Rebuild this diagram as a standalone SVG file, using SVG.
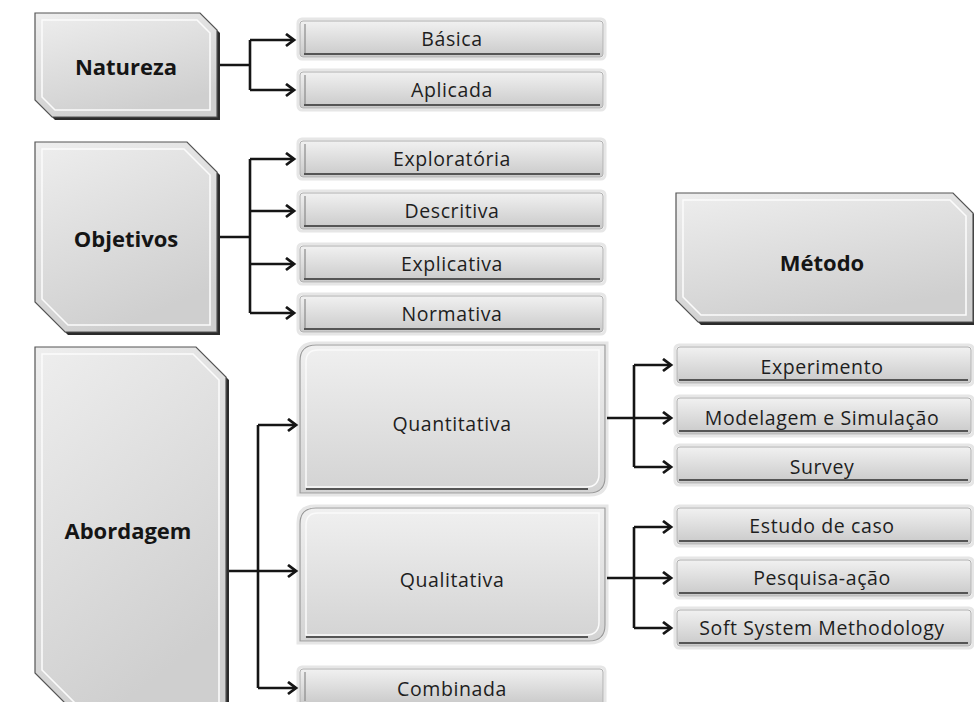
<svg xmlns="http://www.w3.org/2000/svg" width="974" height="702" viewBox="0 0 974 702">
<style>
.big{fill:url(#gBig);stroke:#555;stroke-width:1.2}
.shadow{fill:#2b2b2b}
.inner{fill:none;stroke:#fbfbfb;stroke-width:1.6}
.med{fill:url(#gMed);stroke:#9a9a9a;stroke-width:1.2}
.small{fill:url(#gSmall);stroke:#b0b0b0;stroke-width:1}
.glow{fill:none;stroke:#e6e6e6;stroke-width:3}
.edgeL{stroke:#8a8a8a;stroke-width:1.2}
.edgeB{stroke:#555;stroke-width:2.2}
.tb{font-family:"Open Sans","Liberation Sans",sans-serif;font-weight:bold;font-size:22px;fill:#151515;text-anchor:middle;dominant-baseline:central}
.tr{font-family:"Open Sans","Liberation Sans",sans-serif;font-size:19.5px;letter-spacing:0.6px;fill:#1e1e1e;text-anchor:middle;dominant-baseline:central}
.conn{fill:none;stroke:#151515;stroke-width:2.6}
</style>
<defs>
<linearGradient id="gBig" x1="0" y1="0" x2="0.4" y2="1">
<stop offset="0" stop-color="#eeeeee"/>
<stop offset="1" stop-color="#cfcfcf"/>
</linearGradient>
<linearGradient id="gMed" x1="0" y1="0" x2="0" y2="1">
<stop offset="0" stop-color="#f0f0f0"/>
<stop offset="1" stop-color="#d3d3d3"/>
</linearGradient>
<linearGradient id="gSmall" x1="0" y1="0" x2="0" y2="1">
<stop offset="0" stop-color="#f1f1f1"/>
<stop offset="1" stop-color="#c9c9c9"/>
</linearGradient>
<marker id="arr" markerUnits="userSpaceOnUse" markerWidth="14" markerHeight="16" refX="10" refY="7" orient="auto">
<path d="M2,1 L10,7 L2,13" fill="none" stroke="#151515" stroke-width="2.8"/>
</marker>
</defs>
<rect width="974" height="702" fill="#ffffff"/>

<g id="natureza">
<polygon class="shadow" points="38,16 203,16 220,33 220,120 55,120 38,103"/>
<polygon class="big" points="35,13 200,13 217,30 217,117 52,117 35,100"/>
<polygon class="inner" points="42,20 197,20 210,33 210,110 55,110 42,97"/>
<text class="tb" x="126" y="66">Natureza</text>
</g>

<g id="objetivos">
<polygon class="shadow" points="38,145 190,145 220,175 220,335 68,335 38,305"/>
<polygon class="big" points="35,142 187,142 217,172 217,332 65,332 35,302"/>
<polygon class="inner" points="42,149 184,149 210,175 210,325 68,325 42,299"/>
<text class="tb" x="126" y="238">Objetivos</text>
</g>

<g id="abordagem">
<polygon class="shadow" points="38,350 199,350 229,380 229,715 77,715 38,676"/>
<polygon class="big" points="35,347 196,347 226,377 226,712 74,712 35,673"/>
<polygon class="inner" points="42,354 193,354 219,380 219,705 77,705 42,670"/>
<text class="tb" x="128" y="530">Abordagem</text>
</g>

<g id="metodo">
<polygon class="shadow" points="679,196 956,196 976,216 976,325 701,325 679,303"/>
<polygon class="big" points="676,193 953,193 973,213 973,322 698,322 676,300"/>
<polygon class="inner" points="683,200 950,200 966,216 966,315 701,315 683,297"/>
<text class="tb" x="822" y="262">Método</text>
</g>

<g id="basica">
<rect class="glow" x="298" y="19" width="307" height="40" rx="4"/>
<rect class="small" x="300" y="21" width="303" height="36" rx="3"/>
<line class="edgeL" x1="305" y1="24" x2="305" y2="53"/>
<line class="edgeB" x1="304" y1="54" x2="600" y2="54"/>
<text class="tr" x="452" y="38">Básica</text>
</g>
<g id="aplicada">
<rect class="glow" x="298" y="70" width="307" height="40" rx="4"/>
<rect class="small" x="300" y="72" width="303" height="36" rx="3"/>
<line class="edgeL" x1="305" y1="75" x2="305" y2="104"/>
<line class="edgeB" x1="304" y1="105" x2="600" y2="105"/>
<text class="tr" x="452" y="89">Aplicada</text>
</g>
<g id="exploratoria">
<rect class="glow" x="298" y="139" width="307" height="40" rx="4"/>
<rect class="small" x="300" y="141" width="303" height="36" rx="3"/>
<line class="edgeL" x1="305" y1="144" x2="305" y2="173"/>
<line class="edgeB" x1="304" y1="174" x2="600" y2="174"/>
<text class="tr" x="452" y="158">Exploratória</text>
</g>
<g id="descritiva">
<rect class="glow" x="298" y="191" width="307" height="40" rx="4"/>
<rect class="small" x="300" y="193" width="303" height="36" rx="3"/>
<line class="edgeL" x1="305" y1="196" x2="305" y2="225"/>
<line class="edgeB" x1="304" y1="226" x2="600" y2="226"/>
<text class="tr" x="452" y="210">Descritiva</text>
</g>
<g id="explicativa">
<rect class="glow" x="298" y="244" width="307" height="40" rx="4"/>
<rect class="small" x="300" y="246" width="303" height="36" rx="3"/>
<line class="edgeL" x1="305" y1="249" x2="305" y2="278"/>
<line class="edgeB" x1="304" y1="279" x2="600" y2="279"/>
<text class="tr" x="452" y="263">Explicativa</text>
</g>
<g id="normativa">
<rect class="glow" x="298" y="294" width="307" height="40" rx="4"/>
<rect class="small" x="300" y="296" width="303" height="36" rx="3"/>
<line class="edgeL" x1="305" y1="299" x2="305" y2="328"/>
<line class="edgeB" x1="304" y1="329" x2="600" y2="329"/>
<text class="tr" x="452" y="313">Normativa</text>
</g>

<g id="quantitativa">
<path class="glow" d="M315,343 H607 V478 Q607,495 590,495 H298 V360 Q298,343 315,343 Z"/>
<path class="med" d="M316,345 H605 V477 Q605,493 589,493 H300 V361 Q300,345 316,345 Z"/>
<path fill="none" stroke="#fafafa" stroke-width="1.5" d="M318,350 H599 V474 Q599,487 586,487 H306 V362 Q306,350 318,350 Z"/>
<line class="edgeB" x1="306" y1="489" x2="588" y2="489"/>
<text class="tr" x="452" y="423">Quantitativa</text>
</g>
<g id="qualitativa">
<path class="glow" d="M315,506 H607 V626 Q607,643 590,643 H298 V523 Q298,506 315,506 Z"/>
<path class="med" d="M316,508 H605 V625 Q605,641 589,641 H300 V524 Q300,508 316,508 Z"/>
<path fill="none" stroke="#fafafa" stroke-width="1.5" d="M318,513 H599 V622 Q599,635 586,635 H306 V525 Q306,513 318,513 Z"/>
<line class="edgeB" x1="306" y1="637" x2="588" y2="637"/>
<text class="tr" x="452" y="579">Qualitativa</text>
</g>
<g id="combinada">
<rect class="glow" x="298" y="667" width="307" height="40" rx="4"/>
<rect class="small" x="300" y="669" width="303" height="36" rx="3"/>
<line class="edgeL" x1="305" y1="672" x2="305" y2="701"/>
<text class="tr" x="452" y="688">Combinada</text>
</g>

<g id="experimento">
<rect class="glow" x="675" y="345" width="298" height="40" rx="4"/>
<rect class="small" x="677" y="347" width="294" height="36" rx="3"/>
<line class="edgeB" x1="679" y1="380" x2="968" y2="380"/>
<text class="tr" x="822" y="366">Experimento</text>
</g>
<g id="modelagem">
<rect class="glow" x="675" y="396" width="298" height="40" rx="4"/>
<rect class="small" x="677" y="398" width="294" height="36" rx="3"/>
<line class="edgeB" x1="679" y1="431" x2="968" y2="431"/>
<text class="tr" x="822" y="417">Modelagem e Simulação</text>
</g>
<g id="survey">
<rect class="glow" x="675" y="445" width="298" height="40" rx="4"/>
<rect class="small" x="677" y="447" width="294" height="36" rx="3"/>
<line class="edgeB" x1="679" y1="480" x2="968" y2="480"/>
<text class="tr" x="822" y="466">Survey</text>
</g>
<g id="estudo">
<rect class="glow" x="675" y="506" width="298" height="40" rx="4"/>
<rect class="small" x="677" y="508" width="294" height="36" rx="3"/>
<line class="edgeB" x1="679" y1="541" x2="968" y2="541"/>
<text class="tr" x="822" y="525">Estudo de caso</text>
</g>
<g id="pesquisa">
<rect class="glow" x="675" y="558" width="298" height="40" rx="4"/>
<rect class="small" x="677" y="560" width="294" height="36" rx="3"/>
<line class="edgeB" x1="679" y1="593" x2="968" y2="593"/>
<text class="tr" x="822" y="577">Pesquisa-ação</text>
</g>
<g id="soft">
<rect class="glow" x="675" y="608" width="298" height="40" rx="4"/>
<rect class="small" x="677" y="610" width="294" height="36" rx="3"/>
<line class="edgeB" x1="679" y1="643" x2="968" y2="643"/>
<text class="tr" x="822" y="627">Soft System Methodology</text>
</g>

<g id="connectors">
<path class="conn" d="M220,65 H250 M250,40 V90"/>
<path class="conn" d="M250,40 H294" marker-end="url(#arr)"/>
<path class="conn" d="M250,90 H294" marker-end="url(#arr)"/>
<path class="conn" d="M220,237 H250 M250,159 V313"/>
<path class="conn" d="M250,159 H294" marker-end="url(#arr)"/>
<path class="conn" d="M250,211 H294" marker-end="url(#arr)"/>
<path class="conn" d="M250,264 H294" marker-end="url(#arr)"/>
<path class="conn" d="M250,313 H294" marker-end="url(#arr)"/>
<path class="conn" d="M258,425 V688"/>
<path class="conn" d="M229,571 H296" marker-end="url(#arr)"/>
<path class="conn" d="M258,425 H296" marker-end="url(#arr)"/>
<path class="conn" d="M258,688 H296" marker-end="url(#arr)"/>
<path class="conn" d="M634,365 V467"/>
<path class="conn" d="M607,418 H671" marker-end="url(#arr)"/>
<path class="conn" d="M634,365 H671" marker-end="url(#arr)"/>
<path class="conn" d="M634,467 H671" marker-end="url(#arr)"/>
<path class="conn" d="M634,527 V628"/>
<path class="conn" d="M607,578 H671" marker-end="url(#arr)"/>
<path class="conn" d="M634,527 H671" marker-end="url(#arr)"/>
<path class="conn" d="M634,628 H671" marker-end="url(#arr)"/>
</g>
</svg>
